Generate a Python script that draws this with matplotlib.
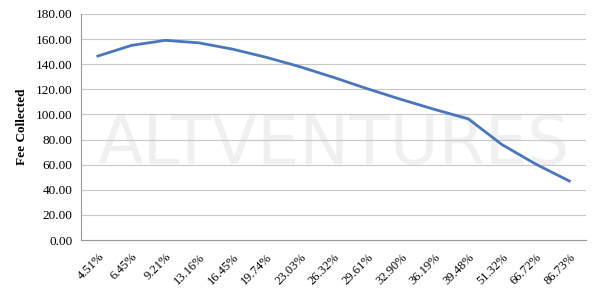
import matplotlib.pyplot as plt

rates = ['4.51%', '6.45%', '9.21%', '13.16%', '16.45%', '19.74%', '23.03%',
         '26.32%', '29.61%', '32.90%', '36.19%', '39.48%', '51.32%', '66.72%',
         '86.73%']
fees = [146.5, 155.0, 159.0, 157.0, 152.0, 145.5, 138.0, 129.5, 120.5,
        112.0, 104.0, 96.5, 76.0, 60.5, 47.0]

plt.rcParams['font.family'] = ['Liberation Serif']

fig = plt.figure(figsize=(6, 2.91), dpi=100)
ax = fig.add_axes([0.135, 0.175, 0.842, 0.777])

# faint watermark behind the data
ax.text(0.5, 0.42, 'ALTVENTURES', transform=ax.transAxes, ha='center',
        va='center', fontsize=48, color='#f0f0f0', family='DejaVu Sans',
        zorder=0)

x = range(len(rates))
ax.plot(x, fees, color='#4a76bd', linewidth=2.0, zorder=3)

ax.set_xlim(-0.5, len(rates) - 0.5)
ax.set_ylim(0, 180)
ax.set_yticks(range(0, 181, 20))
ax.set_yticklabels([f'{v:.2f}' for v in range(0, 181, 20)], fontsize=9.5)
ax.set_xticks(list(x))
ax.set_xticklabels(rates, rotation=45, ha='right', rotation_mode='anchor',
                   fontsize=9)
ax.tick_params(length=0, pad=6)
ax.tick_params(axis='x', pad=8)
ax.grid(axis='y', color='#c8c8c8', linewidth=0.8)
ax.set_axisbelow(True)
for side in ['top', 'right']:
    ax.spines[side].set_visible(False)
for side in ['left', 'bottom']:
    ax.spines[side].set_color('#999999')
ax.set_ylabel('Fee Collected', fontsize=9.5, fontweight='bold', labelpad=6)

plt.savefig('out.png', dpi=100)
